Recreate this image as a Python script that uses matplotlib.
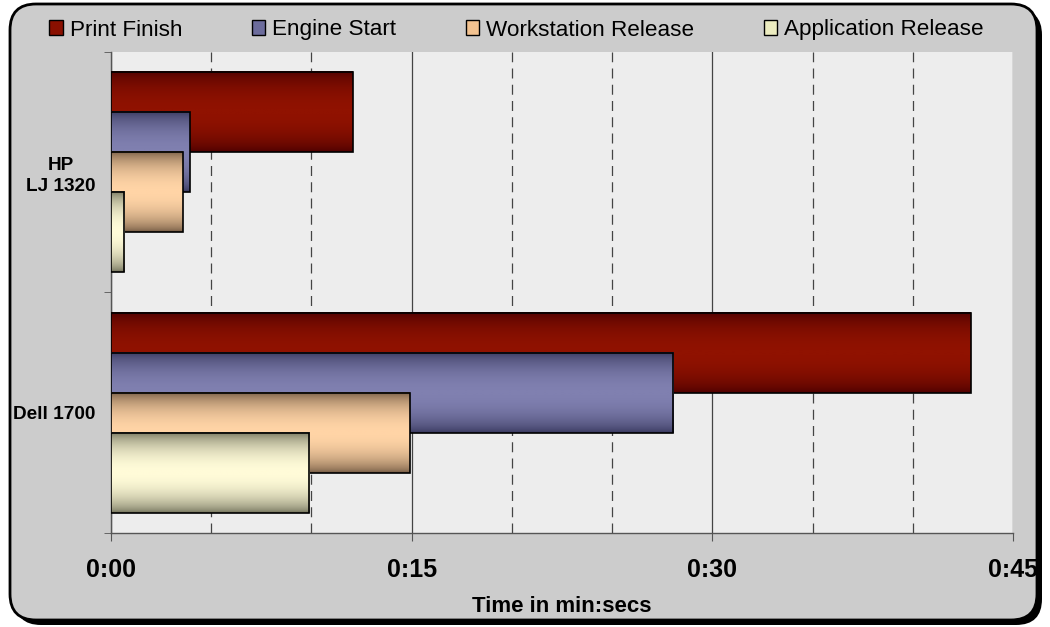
import numpy as np
import matplotlib
matplotlib.use('Agg')
import matplotlib.pyplot as plt
from matplotlib.patches import FancyBboxPatch, Rectangle
from matplotlib.colors import LinearSegmentedColormap
from matplotlib.ticker import FuncFormatter, MultipleLocator, FixedLocator

plt.rcParams['font.family'] = ['Liberation Sans', 'DejaVu Sans']

# data (seconds)
printers = ['HP\nLJ 1320', 'Dell 1700']
series = ['Print Finish', 'Engine Start', 'Workstation Release', 'Application Release']
print_finish = [12.05, 42.9]
engine_start = [3.92, 28.05]
workstation_release = [3.57, 14.9]
application_release = [0.67, 9.9]

values = [print_finish, engine_start, workstation_release, application_release]
darks = ['#4a0000', '#35355a', '#6e553f', '#6c6c56']
lights = ['#901200', '#8080b0', '#ffd4a6', '#fffbd8']
swatch = ['#8a1000', '#6c6c9c', '#f2c290', '#ececc0']

fig = plt.figure(figsize=(10.5, 6.27), dpi=100)

# rounded frame with shadow, drawn in pixel units
bg = fig.add_axes([0, 0, 1, 1], zorder=-10)
bg.set_xlim(0, 1050)
bg.set_ylim(627, 0)
bg.axis('off')
bg.add_patch(FancyBboxPatch((15, 9), 1027, 616, boxstyle='round,pad=0,rounding_size=26',
                            fc='black', ec='black', lw=0))
bg.add_patch(FancyBboxPatch((10, 4), 1027, 616, boxstyle='round,pad=0,rounding_size=26',
                            fc='#cccccc', ec='black', lw=2))

ax = fig.add_axes([0.1057, 0.1499, 0.8591, 0.7672])
ax.set_facecolor('#ededed')

y = np.arange(len(printers))
offsets = [-0.2495, -0.0832, 0.0832, 0.2495]
h = 0.333
grad = np.sin(np.linspace(0, np.pi, 80)) ** 0.6

for i in range(len(series)):
    cmap = LinearSegmentedColormap.from_list('g%d' % i, [darks[i], lights[i]])
    yc = y + offsets[i]
    for c, v in zip(yc, values[i]):
        ax.imshow(grad[:, None], cmap=cmap, vmin=0, vmax=1, aspect='auto',
                  extent=[0, v, c + h / 2, c - h / 2], zorder=3 + i,
                  interpolation='bilinear')
    ax.barh(yc, values[i], height=h, fill=False, edgecolor='black', lw=1.2, zorder=3.5 + i)

ax.set_xlim(0, 45)
ax.set_ylim(1.5, -0.5)

ax.xaxis.set_major_locator(MultipleLocator(15))
ax.xaxis.set_minor_locator(MultipleLocator(5))
ax.xaxis.set_major_formatter(FuncFormatter(lambda s, p: '%d:%02d' % (s // 60, s % 60)))
ax.grid(which='major', axis='x', color='#444444', lw=0.9, zorder=1)
ax.grid(which='minor', axis='x', color='#444444', lw=0.9, linestyle=(0, (8, 5)), zorder=1)
ax.set_axisbelow(True)

ax.tick_params(axis='x', which='major', length=6, color='#555555', pad=12, labelsize=18)
ax.tick_params(axis='x', which='minor', length=0)
for t in ax.get_xticklabels():
    t.set_fontweight('bold')

ax.set_yticks(y)
ax.set_yticklabels(printers, fontweight='bold', fontsize=13.7, multialignment='center',
                   linespacing=1.3)
ax.yaxis.set_minor_locator(FixedLocator([-0.5, 0.5, 1.5]))
ax.tick_params(axis='y', which='major', length=0, pad=11)
ax.tick_params(axis='y', which='minor', length=5, color='#555555')

for s in ['top', 'right']:
    ax.spines[s].set_visible(False)
for s in ['left', 'bottom']:
    ax.spines[s].set_color('#555555')
    ax.spines[s].set_linewidth(1)

ax.set_xlabel('Time in min:secs', fontweight='bold', fontsize=16, labelpad=10)

handles = [Rectangle((0, 0), 1, 1, fc=c, ec='black', lw=1) for c in swatch]
fig.legend(handles, series, loc='center', bbox_to_anchor=(0.492, 1 - 30 / 627), ncol=4,
           frameon=False, fontsize=16.2, handlelength=0.6, handleheight=0.6,
           handletextpad=0.3, columnspacing=3.1)

fig.savefig('out.png', dpi=100)
